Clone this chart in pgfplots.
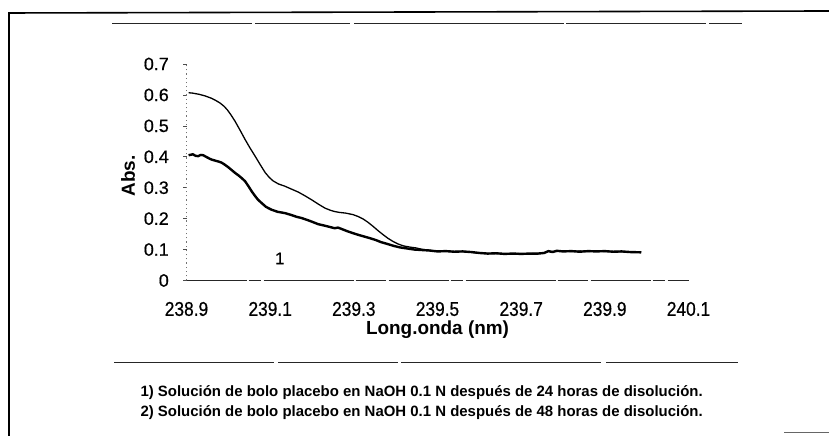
\documentclass[border=0pt]{standalone}
\usepackage{pgfplots}
\pgfplotsset{compat=1.18}
\usepackage{pgfplotstable}
\usepackage{graphicx}
\usepackage{fontspec}
\setmainfont{Liberation Sans}
\newfontfamily\tickfont[FakeBold=0.6]{Liberation Sans}

\pgfplotstableread{
x y
238.905 0.607
238.914 0.606
238.930 0.602
238.944 0.597
238.960 0.589
238.970 0.582
238.980 0.574
238.990 0.563
238.998 0.551
239.006 0.536
239.016 0.515
239.028 0.486
239.040 0.456
239.052 0.428
239.064 0.402
239.076 0.375
239.088 0.349
239.098 0.333
239.107 0.322
239.120 0.312
239.135 0.305
239.150 0.296
239.167 0.286
239.183 0.274
239.199 0.261
239.215 0.247
239.231 0.234
239.244 0.227
239.254 0.223
239.266 0.220
239.280 0.218
239.298 0.213
239.310 0.207
239.322 0.199
239.334 0.188
239.346 0.175
239.358 0.161
239.370 0.148
239.382 0.136
239.394 0.126
239.406 0.118
239.418 0.112
239.434 0.108
239.450 0.105
239.462 0.101
239.473 0.099
239.490 0.096
239.510 0.095
239.530 0.094
239.550 0.094
239.570 0.093
239.590 0.090
239.610 0.088
239.630 0.087
239.650 0.087
239.670 0.086
239.690 0.087
239.710 0.086
239.730 0.087
239.750 0.088
239.765 0.094
239.780 0.094
239.800 0.095
239.820 0.094
239.840 0.095
239.860 0.094
239.880 0.095
239.900 0.094
239.920 0.094
239.940 0.093
239.960 0.093
239.987 0.091
}\seriesA

\pgfplotstableread{
x y
238.905 0.405
238.915 0.408
238.922 0.403
238.928 0.402
238.934 0.406
238.940 0.405
238.948 0.399
238.955 0.394
238.960 0.391
238.970 0.387
238.978 0.384
238.984 0.381
238.992 0.374
239.000 0.366
239.008 0.357
239.016 0.348
239.024 0.340
239.032 0.331
239.040 0.321
239.048 0.305
239.056 0.288
239.064 0.273
239.071 0.261
239.080 0.250
239.090 0.238
239.103 0.229
239.118 0.222
239.135 0.218
239.150 0.212
239.163 0.206
239.175 0.202
239.188 0.196
239.200 0.190
239.215 0.182
239.228 0.178
239.240 0.174
239.254 0.169
239.262 0.171
239.270 0.167
239.285 0.159
239.298 0.153
239.312 0.147
239.325 0.142
239.338 0.137
239.352 0.131
239.365 0.124
239.378 0.119
239.395 0.112
239.410 0.107
239.430 0.103
239.445 0.100
239.457 0.099
239.480 0.097
239.500 0.094
239.520 0.095
239.540 0.093
239.560 0.094
239.580 0.092
239.600 0.089
239.620 0.087
239.640 0.088
239.660 0.086
239.680 0.087
239.700 0.086
239.720 0.087
239.740 0.087
239.755 0.089
239.765 0.095
239.775 0.092
239.785 0.096
239.800 0.094
239.820 0.095
239.840 0.093
239.860 0.095
239.880 0.094
239.900 0.095
239.920 0.093
239.940 0.094
239.960 0.092
239.987 0.091
}\seriesB

\begin{document}
\begin{tikzpicture}[x=1bp,y=1bp]
\useasboundingbox (0,0) rectangle (829,436);
% scan frame lines
\draw[line width=1.6bp, black] (9,0) -- (9,423) -- (829,425);
\draw[line width=0.8bp, black!85, dash pattern=on 140bp off 3bp on 95bp off 4bp on 210bp off 2bp] (112,413) -- (742,413);
\draw[line width=0.8bp, black!85, dash pattern=on 160bp off 4bp on 120bp off 3bp on 200bp off 5bp] (114,74) -- (738,74);
\draw[line width=0.8bp, black!60] (784,4) -- (829,4);

\begin{axis}[
  at={(186.5bp,155.5bp)}, anchor=south west,
  scale only axis, width=502bp, height=216.5bp,
  xmin=238.9, xmax=240.1, ymin=0, ymax=0.7,
  axis x line*=bottom, axis y line*=left,
  x axis line style={-, black!85, line width=0.8bp, dash pattern=on 60bp off 2bp on 12bp off 3bp on 90bp off 2bp on 30bp off 3bp},
  y axis line style={-, black!55, line width=0.7bp, dash pattern=on 1.2bp off 3bp},
  xtick={238.9,239.1,239.3,239.5,239.7,239.9,240.1},
  xticklabels={\scalebox{0.87}[1]{238.9},\scalebox{0.87}[1]{239.1},\scalebox{0.87}[1]{239.3},\scalebox{0.87}[1]{239.5},\scalebox{0.87}[1]{239.7},\scalebox{0.87}[1]{239.9},\scalebox{0.87}[1]{240.1}},
  ytick={0,0.1,0.2,0.3,0.4,0.5,0.6,0.7},
  yticklabels={0,0.1,0.2,0.3,0.4,0.5,0.6,0.7},
  xtick style={draw=none},
  ytick style={black!70, line width=0.6bp},
  tick align=outside, major tick length=3.5bp,
  xticklabel style={font=\tickfont\fontsize{20}{20}\selectfont, anchor=center, yshift=-25bp},
  yticklabel style={font=\tickfont\fontsize{18}{18}\selectfont, anchor=east, inner sep=0pt, xshift=-14bp},
  xlabel={Long.onda (nm)},
  xlabel style={font=\bfseries\fontsize{19}{19}\selectfont, at={(axis description cs:0.5,-0.226)}, anchor=center},
  ylabel={Abs.},
  ylabel style={font=\bfseries\fontsize{19}{19}\selectfont, at={(axis description cs:-0.1163,0.4827)}, anchor=center},
  clip=false,
]
\addplot[black, line width=1.3bp, line join=round] table {\seriesA};
\addplot[black, line width=2.4bp, line join=round] table {\seriesB};
\node[font=\tickfont\fontsize{17}{17}\selectfont] at (axis cs:239.123,0.0714) {1};
\end{axis}

\node[anchor=west, font=\bfseries\fontsize{15}{15}\selectfont] at (137,43) {1) Solución de bolo placebo en NaOH 0.1 N después de 24 horas de disolución.};
\node[anchor=west, font=\bfseries\fontsize{15}{15}\selectfont] at (137,23) {2) Solución de bolo placebo en NaOH 0.1 N después de 48 horas de disolución.};
\end{tikzpicture}
\end{document}
